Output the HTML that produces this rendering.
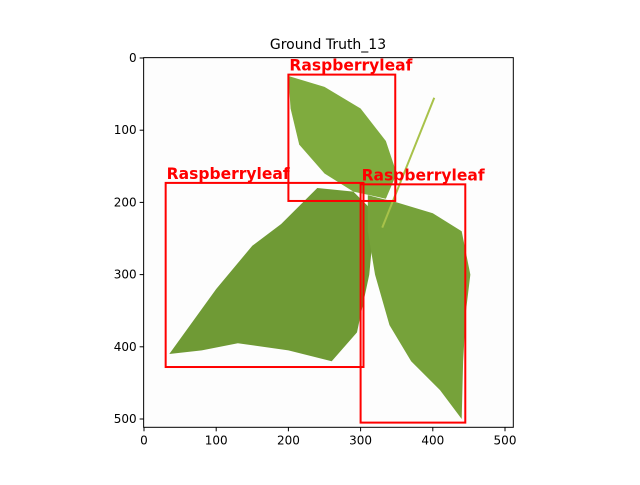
<!DOCTYPE html>
<html><head><meta charset="utf-8"><style>
body{margin:0;background:#fff;width:640px;height:480px;overflow:hidden}
text{font-family:"DejaVu Sans","Liberation Sans",sans-serif}
</style></head><body>
<svg id="chart" width="640" height="480" xmlns="http://www.w3.org/2000/svg">
<text x="328" y="49" font-size="14" text-anchor="middle">Ground Truth_13</text>
<g id="plot"></g>
</svg>
<script>
const xTicks=[0,100,200,300,400,500];
const yTicks=[0,100,200,300,400,500];
const boxLabels=["Raspberryleaf","Raspberryleaf","Raspberryleaf"];
const boxX0=[200,30,300];
const boxY0=[23,173,175];
const boxX1=[348,304,445];
const boxY1=[198,428,505];
const leafTop=[[200,25],[250,40],[300,70],[335,115],[350,160],[335,195],[290,185],[250,160],[215,120],[203,70]];
const leafLeft=[[35,410],[100,320],[150,260],[190,230],[240,180],[290,185],[320,215],[312,300],[295,380],[260,420],[200,405],[130,395],[80,405]];
const leafRight=[[310,190],[350,200],[400,215],[440,240],[452,300],[446,350],[442,420],[440,500],[410,460],[370,420],[340,370],[320,300],[310,240]];
const sx=d=>144+d*0.722, sy=d=>58+d*0.722;
const NS="http://www.w3.org/2000/svg";
const g=document.getElementById('plot');
function mk(t,a){const e=document.createElementNS(NS,t);for(const k in a)e.setAttribute(k,a[k]);g.appendChild(e);return e;}
const img=mk('rect',{x:sx(-0.5),y:sy(-0.5),width:512*0.722,height:512*0.722,fill:'#fdfdfd'});


[[leafLeft,'#6f9a35','leaf-left'],[leafRight,'#76a23a','leaf-right'],[leafTop,'#7fab3e','leaf-top']].forEach(([pts,c,n])=>{
 const p=mk('polygon',{points:pts.map(q=>sx(q[0])+','+sy(q[1])).join(' '),fill:c});
 
 
});
const st=mk('line',{x1:sx(330),y1:sy(235),x2:sx(402),y2:sy(55),stroke:'#a8c24a','stroke-width':2});


for(let i=0;i<boxLabels.length;i++){
 const r=mk('rect',{x:sx(boxX0[i]),y:sy(boxY0[i]),width:(boxX1[i]-boxX0[i])*0.722,height:(boxY1[i]-boxY0[i])*0.722,fill:'none',stroke:'#ff0000','stroke-width':2});
 
 
 const t=mk('text',{x:sx(boxX0[i])+1,y:sy(boxY0[i])-4,'font-size':16,'font-weight':'bold',fill:'#ff0000',textLength:(boxX0[i]===30?123:123),lengthAdjust:'spacingAndGlyphs'});
 t.textContent=boxLabels[i];
 
 
}
const ax=mk('rect',{x:sx(-0.5),y:sy(-0.5),width:512*0.722,height:512*0.722,fill:'none',stroke:'#000','stroke-width':1});


const bottom=sy(511.5), left=sx(-0.5);
xTicks.forEach(v=>{
 const l=mk('line',{x1:sx(v),y1:bottom,x2:sx(v),y2:bottom+4,stroke:'#000'});
 
 
 const t=mk('text',{x:sx(v),y:bottom+17,'font-size':12,'text-anchor':'middle'});
 t.textContent=v;
 
 
});
yTicks.forEach(v=>{
 const l=mk('line',{x1:left-4,y1:sy(v),x2:left,y2:sy(v),stroke:'#000'});
 
 
 const t=mk('text',{x:left-7,y:sy(v)+4,'font-size':12,'text-anchor':'end'});
 t.textContent=v;
 
 
});
</script>
</body></html>
